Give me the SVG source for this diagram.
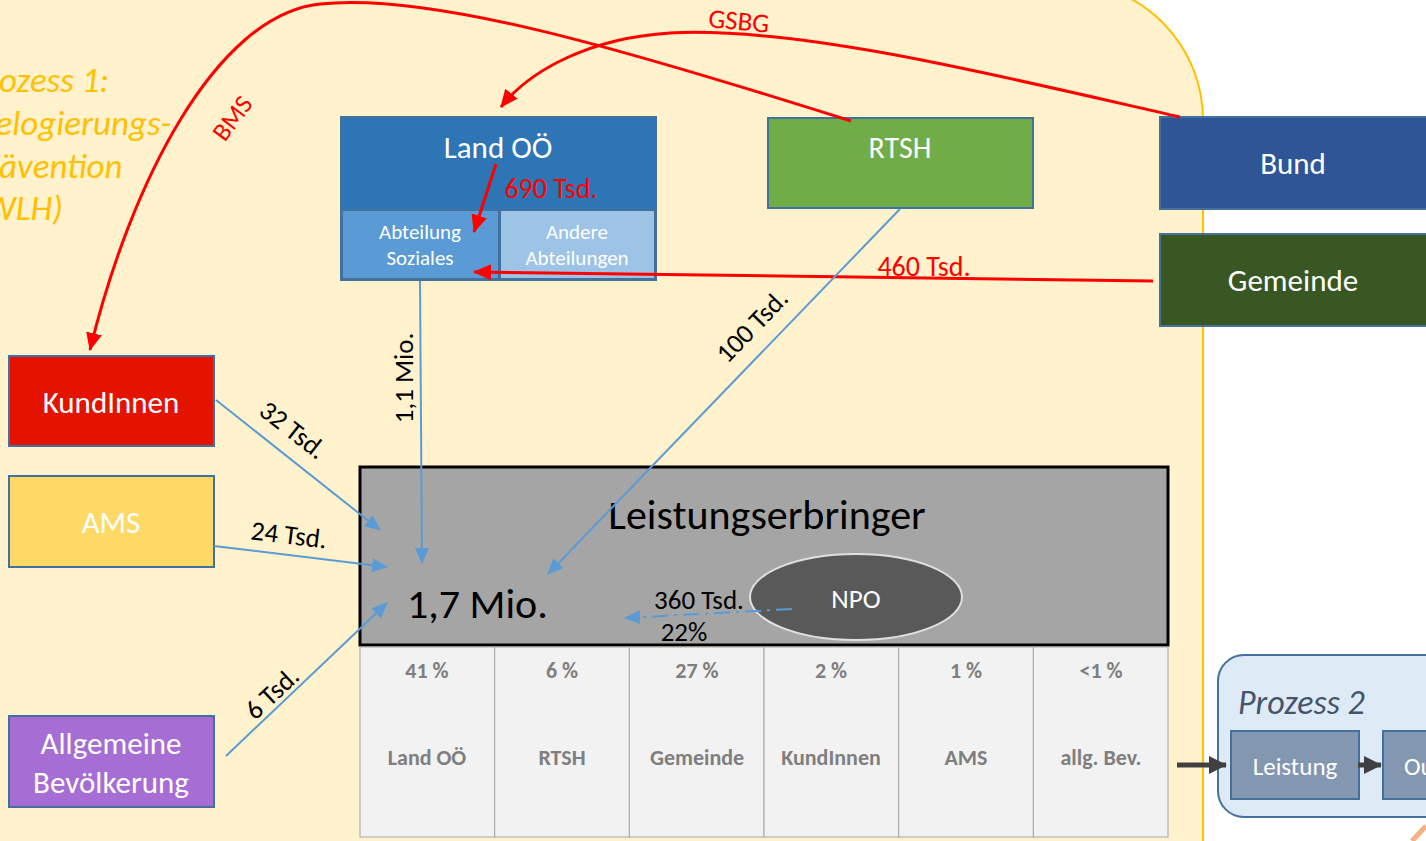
<svg xmlns="http://www.w3.org/2000/svg" width="1426" height="841" viewBox="0 0 1426 841">
<style>
text{font-family:Carlito,Lato,"Liberation Sans",sans-serif}
.wt{fill:#fff;text-anchor:middle}
.box{stroke:#41719C;stroke-width:2}
.blue{fill:none;stroke:#5B9BD5;stroke-width:2}
.red{fill:none;stroke:#FF0000;stroke-width:3}
.lbl{fill:#000;text-anchor:middle}
.rlbl{fill:#FF0000;text-anchor:middle}
.tb{fill:#7F7F7F;font-weight:bold;text-anchor:middle}
</style>
<defs>
<marker id="ab" markerUnits="userSpaceOnUse" markerWidth="16" markerHeight="14" refX="15" refY="7" orient="auto"><path d="M0,0 L16,7 L0,14 z" fill="#5B9BD5"/></marker>
<marker id="ar" markerUnits="userSpaceOnUse" markerWidth="18" markerHeight="16" refX="17" refY="8" orient="auto"><path d="M0,0 L18,8 L0,16 z" fill="#FF0000"/></marker>
<marker id="ad" markerUnits="userSpaceOnUse" markerWidth="18" markerHeight="18" refX="17" refY="9" orient="auto"><path d="M0,0 L18,9 L0,18 z" fill="#404040"/></marker>
</defs>
<rect x="0" y="0" width="1426" height="841" fill="#fff"/>
<g id="panel1">
<path d="M -20 -18 H 1065 A 138 138 0 0 1 1203 120 V 870 H -20 Z" fill="#FFF2CC" stroke="#FFC000" stroke-width="2"/>
<g font-style="italic" font-size="35" fill="#FFC000">
<text x="-31" y="92">Prozess 1:</text>
<text x="-26" y="135">Delogierungs-</text>
<text x="-31" y="178">Prävention</text>
<text x="-26" y="220">(WLH)</text>
</g>
</g>
<g id="land">
<rect x="341" y="117" width="315" height="163" fill="#2E75B6" class="box"/>
<text x="498" y="158" class="wt" font-size="31">Land OÖ</text>
<text x="551" y="198" class="rlbl" font-size="28">690 Tsd.</text>
</g>
<g id="soziales">
<rect x="342" y="210" width="157" height="69" fill="#5B9BD5" class="box"/>
<text x="420" y="239" class="wt" font-size="21">Abteilung</text>
<text x="420" y="265" class="wt" font-size="21">Soziales</text>
</g>
<g id="andere">
<rect x="500" y="210" width="155" height="69" fill="#9DC3E6" class="box"/>
<text x="577" y="239" class="wt" font-size="21">Andere</text>
<text x="577" y="265" class="wt" font-size="21">Abteilungen</text>
</g>
<g id="rtsh">
<rect x="768" y="118" width="265" height="90" fill="#70AD47" class="box"/>
<text x="900" y="158" class="wt" font-size="30">RTSH</text>
</g>
<g id="bund">
<rect x="1160" y="117" width="280" height="92" fill="#2F5597" class="box"/>
<text x="1293" y="174" class="wt" font-size="31">Bund</text>
</g>
<g id="gemeinde">
<rect x="1160" y="234" width="280" height="92" fill="#385723" class="box"/>
<text x="1293" y="291" class="wt" font-size="31">Gemeinde</text>
</g>
<g id="kundinnen">
<rect x="9" y="356" width="205" height="90" fill="#E31300" class="box"/>
<text x="111" y="413" class="wt" font-size="31">KundInnen</text>
</g>
<g id="ams">
<rect x="9" y="476" width="205" height="91" fill="#FFD966" class="box"/>
<text x="111" y="533" class="wt" font-size="31">AMS</text>
</g>
<g id="allgemein">
<rect x="9" y="716" width="205" height="91" fill="#A66DD4" class="box"/>
<text x="111" y="754" class="wt" font-size="31">Allgemeine</text>
<text x="111" y="793" class="wt" font-size="31">Bevölkerung</text>
</g>
<g id="leistungserbringer">
<rect x="360" y="467" width="808" height="178" fill="#A5A5A5" stroke="#000" stroke-width="3"/>
<text x="767" y="529" fill="#000" font-size="42" text-anchor="middle">Leistungserbringer</text>
<text x="407" y="618" fill="#000" font-size="42">1,7 Mio.</text>
</g>
<g id="npo">
<ellipse cx="856" cy="597" rx="106" ry="43" fill="#595959" stroke="#E0E0E0" stroke-width="2"/>
<text x="856" y="608" class="wt" font-size="27">NPO</text>
</g>
<g id="table">
<g fill="#F2F2F2" stroke="#A6A6A6" stroke-width="1">
<rect x="360" y="647" width="134.7" height="190"/>
<rect x="494.7" y="647" width="134.7" height="190"/>
<rect x="629.3" y="647" width="134.7" height="190"/>
<rect x="764" y="647" width="134.7" height="190"/>
<rect x="898.7" y="647" width="134.7" height="190"/>
<rect x="1033.3" y="647" width="134.7" height="190"/>
</g>
<g font-size="22">
<text x="427" y="678" class="tb">41 %</text>
<text x="562" y="678" class="tb">6 %</text>
<text x="697" y="678" class="tb">27 %</text>
<text x="831" y="678" class="tb">2 %</text>
<text x="966" y="678" class="tb">1 %</text>
<text x="1101" y="678" class="tb">&lt;1 %</text>
<text x="427" y="765" class="tb">Land OÖ</text>
<text x="562" y="765" class="tb">RTSH</text>
<text x="697" y="765" class="tb">Gemeinde</text>
<text x="831" y="765" class="tb">KundInnen</text>
<text x="966" y="765" class="tb">AMS</text>
<text x="1101" y="765" class="tb">allg. Bev.</text>
</g>
</g>
<g id="prozess2">
<rect x="1218" y="655" width="240" height="162" rx="26" fill="#DEEBF7" stroke="#41719C" stroke-width="2"/>
<text x="1238" y="714" font-style="italic" font-size="34" fill="#44546A">Prozess 2</text>
</g>
<g id="leistung">
<rect x="1231" y="731" width="128" height="68" fill="#8497B0" class="box"/>
<text x="1295" y="775" class="wt" font-size="25">Leistung</text>
</g>
<g id="output">
<rect x="1383" y="731" width="128" height="68" fill="#8497B0" class="box"/>
<text x="1404" y="775" fill="#fff" font-size="25">Output</text>
</g>
<g id="connectors">
<path class="red" d="M 851 121 C 620 48 430 -8 320 4 C 215 15 130 185 90 350" marker-end="url(#ar)"/>
<path class="red" d="M 1180 117 C 1000 76 800 26 670 33 C 590 38 530 70 501 107" marker-end="url(#ar)"/>
<path class="red" d="M 496 164 L 474 232" marker-end="url(#ar)"/>
<path class="red" d="M 1153 281 L 474 272" marker-end="url(#ar)"/>
<text x="232" y="127" class="rlbl" font-size="26" transform="rotate(-53 232 118)">BMS</text>
<text x="739" y="30" class="rlbl" font-size="27" transform="rotate(5 739 20)">GSBG</text>
<text x="924" y="276" class="rlbl" font-size="28">460 Tsd.</text>
<path class="blue" d="M 420 281 L 422 563" marker-end="url(#ab)"/>
<path class="blue" d="M 900 209 L 548 574" marker-end="url(#ab)"/>
<path class="blue" d="M 216 400 L 380 530" marker-end="url(#ab)"/>
<path class="blue" d="M 214 546 L 387 567" marker-end="url(#ab)"/>
<path class="blue" d="M 226 756 L 387 603" marker-end="url(#ab)"/>
<path class="blue" d="M 792 609 L 625 618" stroke-dasharray="16 6 3 6" marker-end="url(#ab)"/>
<g font-size="27">
<text x="404" y="387" class="lbl" transform="rotate(-90 404 378)">1,1 Mio.</text>
<text x="752" y="335" class="lbl" transform="rotate(-46 752 326)">100 Tsd.</text>
<text x="293" y="439" class="lbl" transform="rotate(38 293 430)">32 Tsd.</text>
<text x="289" y="544" class="lbl" transform="rotate(7 289 535)">24 Tsd.</text>
<text x="272" y="702" class="lbl" transform="rotate(-43 272 693)">6 Tsd.</text>
<text x="699" y="609" class="lbl">360 Tsd.</text>
<text x="684" y="641" class="lbl">22%</text>
</g>
<path d="M 1177 765 L 1226 765" stroke="#404040" stroke-width="5" marker-end="url(#ad)"/>
<path d="M 1358 765 L 1381 765" stroke="#404040" stroke-width="5" marker-end="url(#ad)"/>
<path d="M 1412 841 L 1426 826" stroke="#F4B183" stroke-width="5"/>
</g>
</svg>
